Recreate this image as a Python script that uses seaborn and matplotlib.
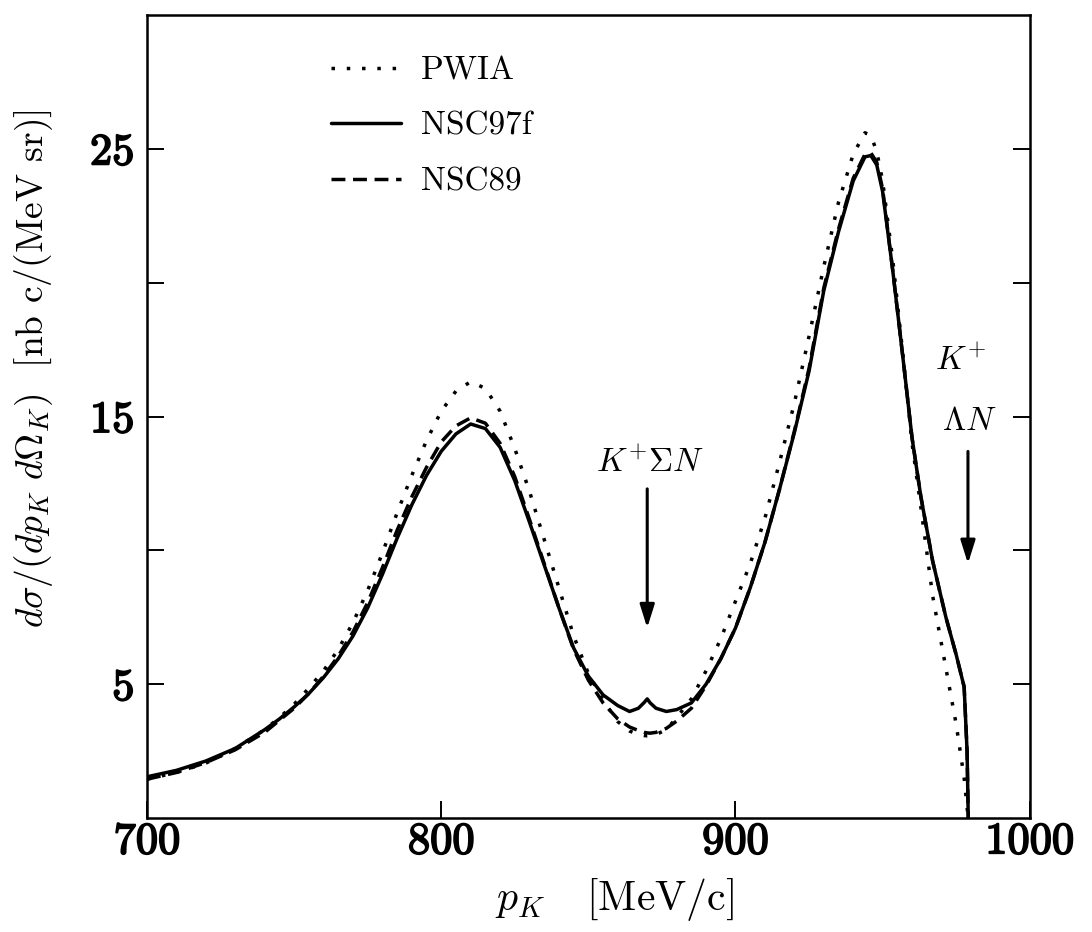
import numpy as np
import pandas as pd
import matplotlib
matplotlib.use("Agg")
import matplotlib.pyplot as plt
import matplotlib.patheffects as pe
import seaborn as sns

# kaon momentum grid [MeV/c] and cross sections
p_k = [700, 710, 720, 730, 740, 745, 750, 755, 760, 765, 770, 775, 780, 785,
       790, 795, 800, 805, 810, 815, 820, 825, 830, 835, 840, 845, 850, 855,
       860, 864, 867, 869, 870, 871, 873, 876.5, 880, 885, 890, 895, 900,
       905, 910, 915, 920, 925, 930, 935, 940, 944, 946, 948, 950, 953.5,
       957, 960, 963, 967, 971.5, 975, 977.7, 978.7, 979.1]

pwia = [1.45, 1.7, 2.05, 2.6, 3.3, 3.75, 4.25, 4.85, 5.5, 6.3, 7.3, 8.5, 9.9,
        11.4, 12.8, 14.1, 15.2, 15.95, 16.3, 16.05, 15.2, 13.8, 12.2, 10.4,
        8.6, 6.8, 5.4, 4.4, 3.6, 3.25, 3.12, 3.08, 3.07, 3.08, 3.12, 3.3,
        3.75, 4.45, 5.5, 6.7, 8.1, 9.5, 11.2, 13.3, 15.5, 18.0, 20.6, 23.0,
        24.8, 25.6, 25.5, 24.9, 23.8, 20.8, 17.2, 14.0, 11.6, 8.3, 5.6, 3.5,
        1.5, 0.4, 0.0]

nsc97f = [1.54, 1.78, 2.13, 2.6, 3.3, 3.7, 4.15, 4.65, 5.25, 5.95, 6.8, 7.85,
          9.1, 10.45, 11.7, 12.8, 13.7, 14.35, 14.72, 14.55, 13.85, 12.6,
          11.05, 9.45, 7.85, 6.35, 5.3, 4.6, 4.2, 3.98, 4.1, 4.32, 4.45, 4.3,
          4.1, 3.98, 4.05, 4.3, 5.0, 5.95, 7.1, 8.6, 10.3, 12.3, 14.4, 16.7,
          19.7, 21.9, 23.8, 24.7, 24.75, 24.4, 23.4, 20.4, 17.1, 14.2, 12.0,
          9.6, 7.5, 6.1, 4.9, 2.5, 0.0]

nsc89 = [1.45, 1.7, 2.07, 2.55, 3.2, 3.65, 4.1, 4.65, 5.3, 6.05, 6.95, 8.05,
         9.35, 10.75, 12.0, 13.1, 14.05, 14.65, 14.95, 14.75, 14.0, 12.75,
         11.15, 9.5, 7.85, 6.3, 5.15, 4.3, 3.7, 3.4, 3.27, 3.2, 3.18, 3.17,
         3.2, 3.35, 3.62, 4.1, 4.95, 5.95, 7.1, 8.6, 10.3, 12.3, 14.45, 16.8,
         19.8, 22.0, 23.9, 24.8, 24.85, 24.5, 23.5, 20.4, 17.1, 14.2, 12.0,
         9.6, 7.5, 6.1, 4.9, 2.5, 0.0]

x_ticks = [700, 800, 900, 1000]
y_major = [5, 15, 25]
y_minor = [10, 20]

sns.set_style("ticks")
plt.rcParams["font.family"] = "serif"
plt.rcParams["font.serif"] = ["cmr10", "DejaVu Serif"]
plt.rcParams["mathtext.fontset"] = "cm"
plt.rcParams["axes.formatter.use_mathtext"] = True
for key in ["text.color", "axes.labelcolor", "xtick.color", "ytick.color",
            "axes.edgecolor"]:
    plt.rcParams[key] = "black"

fig = plt.figure(figsize=(10.92, 9.32), dpi=100)
ax = fig.add_axes([0.1346, 0.1223, 0.8084, 0.8616])

df = pd.DataFrame({"p": p_k, "PWIA": pwia, "NSC97f": nsc97f, "NSC89": nsc89})

styles = {"PWIA": (0, (1, 3.4)), "NSC97f": "-", "NSC89": (0, (4, 2.2))}
for name in ["PWIA", "NSC97f", "NSC89"]:
    sns.lineplot(x=df["p"], y=df[name], ax=ax, color="black", lw=2.5,
                 linestyle=styles[name], label=name, estimator=None, sort=False)

ax.set_xlim(700, 1000)
ax.set_ylim(0, 30)

ax.set_xticks(x_ticks)
ax.set_xticklabels([str(v) for v in x_ticks])
ax.set_yticks(y_major)
ax.set_yticklabels([str(v) for v in y_major])
ax.set_yticks(y_minor, minor=True)
ax.tick_params(axis="both", which="both", direction="in", length=12, width=1.4,
               labelsize=32, right=True, top=False)
ax.tick_params(axis="x", pad=3)
ax.tick_params(axis="y", pad=9)
# fake the bold-extended look of the original tick numbers
bold = [pe.withStroke(linewidth=1.3, foreground="black")]
for lab in ax.get_xticklabels() + ax.get_yticklabels():
    lab.set_path_effects(bold)
for s in ax.spines.values():
    s.set_linewidth(1.8)

ax.set_xlabel(r"$p_K$   [MeV/c]", fontsize=30)
ax.xaxis.set_label_coords(0.53, -0.072)
ax.set_ylabel(r"$d\sigma/(dp_K\ d\Omega_K)$  [nb c/(MeV sr)]", fontsize=27)
ax.yaxis.set_label_coords(-0.104, 0.56)

# threshold markers
ax.text(871, 13.3, r"$K^{+}\Sigma N$", fontsize=24, ha="center", va="center")
ax.annotate("", xy=(870, 7.0), xytext=(870, 12.4),
            arrowprops=dict(arrowstyle="-|>,head_length=0.7,head_width=0.22",
                            color="black", lw=2.2, mutation_scale=20))
ax.text(976.5, 17.1, r"$K^{+}$", fontsize=24, ha="center", va="center")
ax.text(979.5, 14.8, r"$\Lambda N$", fontsize=24, ha="center", va="center")
ax.annotate("", xy=(979, 9.4), xytext=(979, 13.8),
            arrowprops=dict(arrowstyle="-|>,head_length=0.7,head_width=0.22",
                            color="black", lw=2.2, mutation_scale=20))

ax.legend(loc="upper left", bbox_to_anchor=(0.174, 0.986), frameon=False,
          fontsize=24, handlelength=2.1, handletextpad=0.6, labelspacing=0.78,
          borderpad=0.4)

fig.savefig("out.png", dpi=100)
